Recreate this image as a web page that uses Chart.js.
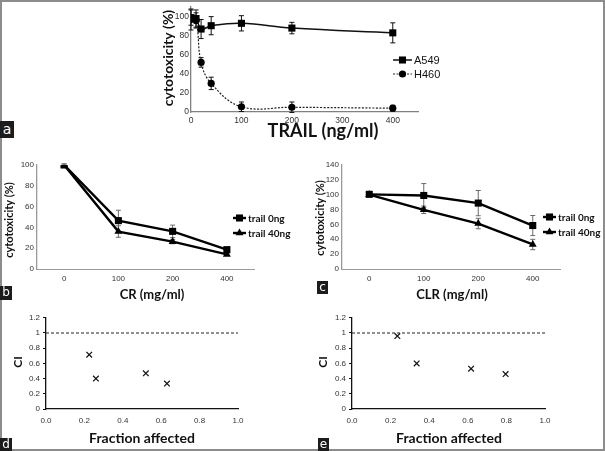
<!DOCTYPE html>
<html>
<head>
<meta charset="utf-8">
<script src="https://cdn.jsdelivr.net/npm/chart.js@4.4.1/dist/chart.umd.min.js"></script>
<style>
  body { margin: 0; background: #fff; }
  canvas { position: absolute; }
  .cornice { position: absolute; left: 0; top: 0; width: 605px; height: 451px; border: 2px solid #8c8c8c; box-sizing: border-box; }
  .lettera { position: absolute; background: #1c1c1c; color: #fff; font: 12px "DejaVu Sans", sans-serif; text-align: center; }
</style>
</head>
<body>
<div class="cornice"></div>
<canvas id="graficoA" width="320" height="141" style="left:140px;top:0px"></canvas>
<canvas id="graficoB" width="300" height="190" style="left:0px;top:120px"></canvas>
<canvas id="graficoC" width="305" height="190" style="left:300px;top:120px"></canvas>
<canvas id="graficoD" width="300" height="141" style="left:0px;top:310px"></canvas>
<canvas id="graficoE" width="305" height="141" style="left:300px;top:310px"></canvas>
<div class="lettera" style="left:0;top:121px;width:14px;height:17px;line-height:16px;font-size:14px">a</div>
<div class="lettera" style="left:0;top:286px;width:12px;height:14px;line-height:13px">b</div>
<div class="lettera" style="left:317px;top:281px;width:11px;height:13px;line-height:12px">c</div>
<div class="lettera" style="left:0;top:438px;width:12px;height:13px;line-height:12px">d</div>
<div class="lettera" style="left:318px;top:438px;width:11px;height:13px;line-height:12px">e</div>
<script>
// pannello a: vitalità in funzione di TRAIL
var trail_dosi = [0, 10, 20, 40, 100, 200, 400];
var a549_valori = [99, 98, 87, 90.5, 93, 88, 83];
var a549_errori = [8, 9, 10, 9.5, 8, 6, 10.5];
var h460_valori = [97, 96, 52, 30, 5.5, 5, 4];
var h460_errori = [11, 8, 5, 6.5, 5, 5.5, 3];
var a_tick_x = [0, 100, 200, 300, 400];
var a_tick_y = [0, 20, 40, 60, 80, 100];

// pannello b: CR
var cr_dosi = ['0', '100', '200', '400'];
var cr_trail0 = [100, 46.5, 36.2, 18.6];
var cr_trail0_err = [1, 10, 6, 2];
var cr_trail40 = [100, 36, 26.3, 14.1];
var cr_trail40_err = [1, 5.5, 2, 1];
var b_tick_y = [0, 20, 40, 60, 80, 100];

// pannello c: CLR
var clr_dosi = ['0', '100', '200', '400'];
var clr_trail0 = [100.5, 99, 88.7, 58.5];
var clr_trail0_err = [2, 16, 17, 13.5];
var clr_trail40 = [100, 79.7, 61.2, 33];
var clr_trail40_err = [1, 5, 7, 7];
var c_tick_y = [0, 20, 40, 60, 80, 100, 120, 140];

// pannelli d ed e: indice di combinazione
var d_fa = [0.225, 0.26, 0.52, 0.63];
var d_ci = [0.715, 0.40, 0.47, 0.335];
var e_fa = [0.235, 0.335, 0.617, 0.796];
var e_ci = [0.96, 0.60, 0.53, 0.46];
var ci_linea_x = [0, 1];
var ci_linea_y = [1, 1];
var ci_tick_x = [0, 0.2, 0.4, 0.6, 0.8, 1.0];
var ci_tick_y = [0, 0.2, 0.4, 0.6, 0.8, 1, 1.2];

var font_tick = 'Liberation Sans';
var font_titoli = 'Lato';

function coppie(xs, ys){
  var out = [];
  for (var i = 0; i < xs.length; i++) {
    out.push({x: xs[i], y: ys[i]});
  }
  return out;
}

function disegna_marker(ctx, stile, x, y, r){
  ctx.fillStyle = '#000';
  ctx.beginPath();
  if (stile === 'rect') {
    var s = r * Math.SQRT1_2;
    ctx.rect(x - s, y - s, 2 * s, 2 * s);
  } else if (stile === 'triangle') {
    ctx.moveTo(x, y - r);
    ctx.lineTo(x + r * 0.866, y + r * 0.5);
    ctx.lineTo(x - r * 0.866, y + r * 0.5);
    ctx.closePath();
  } else {
    ctx.arc(x, y, r, 0, Math.PI * 2);
  }
  ctx.fill();
}

// barre di errore disegnate con la scala y del grafico
var plugin_errori = {
  id: 'barre_errore',
  beforeDatasetsDraw: function(chart){
    var ctx = chart.ctx;
    var sy = chart.scales.y;
    chart.data.datasets.forEach(function(ds, i){
      if (!ds.errori) return;
      var meta = chart.getDatasetMeta(i);
      ctx.save();
      ctx.strokeStyle = ds.coloreErrori;
      ctx.lineWidth = 1;
      meta.data.forEach(function(pt, j){
        var d = ds.data[j];
        var v = (typeof d === 'object') ? d.y : d;
        var alto = sy.getPixelForValue(v + ds.errori[j]);
        var basso = sy.getPixelForValue(v - ds.errori[j]);
        ctx.beginPath();
        ctx.moveTo(pt.x, alto); ctx.lineTo(pt.x, basso);
        ctx.moveTo(pt.x - 2.5, alto); ctx.lineTo(pt.x + 2.5, alto);
        ctx.moveTo(pt.x - 2.5, basso); ctx.lineTo(pt.x + 2.5, basso);
        ctx.stroke();
      });
      ctx.restore();
    });
  }
};

// legenda stile excel: tratto di linea con il marker in mezzo
function legenda(x, lung, ys, font){
  return {
    id: 'legendina',
    afterDraw: function(chart){
      var ctx = chart.ctx;
      ys.forEach(function(y, k){
        var ds = chart.data.datasets[k];
        ctx.save();
        ctx.strokeStyle = ds.borderColor;
        ctx.lineWidth = ds.borderWidth;
        ctx.setLineDash(ds.borderDash || []);
        ctx.beginPath();
        ctx.moveTo(x, y);
        ctx.lineTo(x + lung, y);
        ctx.stroke();
        ctx.setLineDash([]);
        disegna_marker(ctx, ds.pointStyle, x + lung / 2, y, ds.pointRadius);
        ctx.fillStyle = '#111';
        ctx.font = font;
        ctx.textAlign = 'left';
        ctx.textBaseline = 'middle';
        ctx.fillText(ds.label, x + lung + 2, y + 0.5);
        ctx.restore();
      });
    }
  };
}

// titoli degli assi in posizione libera (coordinate della tela)
function titoli(tx, ty){
  return {
    id: 'titoli_assi',
    afterDraw: function(chart){
      var ctx = chart.ctx;
      ctx.save();
      ctx.fillStyle = '#111';
      ctx.textAlign = 'center';
      ctx.textBaseline = 'middle';
      ctx.font = 'bold ' + tx.size + 'px ' + font_titoli;
      ctx.fillText(tx.testo, tx.x, tx.y);
      ctx.translate(ty.x, ty.y);
      ctx.rotate(-Math.PI / 2);
      ctx.font = 'bold ' + ty.size + 'px ' + font_titoli;
      ctx.fillText(ty.testo, 0, 0);
      ctx.restore();
    }
  };
}

function asse_y(min, max, lista, colore, conTacche, fmt){
  return {
    min: min, max: max,
    afterFit: null,
    afterBuildTicks: function(s){ s.ticks = lista.map(function(v){ return {value: v}; }); },
    grid: {display: conTacche, drawOnChartArea: false, drawTicks: conTacche, tickLength: 3, color: colore},
    border: {display: true, color: colore, width: 1.3},
    ticks: {font: {family: font_tick, size: 8}, color: '#333', padding: 3, callback: fmt}
  };
}

function crea_grafico(id, tela, area, config){
  var lw = area.L - tela.l;
  var hx = tela.t + tela.h - area.B;
  config.options.layout = {padding: {left: 0, top: area.T - tela.t, right: tela.l + tela.w - area.R, bottom: 0}};
  config.options.scales.y.afterFit = function(s){ s.width = lw; };
  config.options.scales.x.afterFit = function(s){ s.height = hx; };
  config.options.responsive = false;
  config.options.animation = false;
  config.options.devicePixelRatio = 1;
  config.options.plugins = {legend: {display: false}, tooltip: {enabled: false}};
  var ctx = document.getElementById(id).getContext('2d');
  return new Chart(ctx, config);
}

function locale(tela, px, py){
  return {x: px - tela.l, y: py - tela.t};
}

// ---------- pannello a ----------
var telaA = {l: 140, t: 0, w: 320, h: 141};
var pA1 = locale(telaA, 323, 131), pA2 = locale(telaA, 168, 58);
var yA = asse_y(0, 110, a_tick_y, '#808080', false);
yA.ticks.font.size = 8.5;
yA.ticks.padding = 2;
crea_grafico('graficoA', telaA, {L: 191, T: 6, R: 418, B: 112}, {
  type: 'scatter',
  data: {
    datasets: [{
      label: 'A549',
      data: coppie(trail_dosi, a549_valori),
      errori: a549_errori, coloreErrori: '#111',
      showLine: true, tension: 0.4,
      borderColor: '#111', borderWidth: 1.5,
      pointStyle: 'rect', pointRadius: 5, pointBackgroundColor: '#000', pointBorderWidth: 0
    }, {
      label: 'H460',
      data: coppie(trail_dosi, h460_valori),
      errori: h460_errori, coloreErrori: '#111',
      showLine: true, tension: 0.4,
      borderColor: '#222', borderWidth: 1.2, borderDash: [2, 1.5],
      pointStyle: 'circle', pointRadius: 3.6, pointBackgroundColor: '#000', pointBorderWidth: 0
    }]
  },
  options: {
    scales: {
      x: {
        type: 'linear', min: 0, max: 450,
        afterBuildTicks: function(s){ s.ticks = a_tick_x.map(function(v){ return {value: v}; }); },
        grid: {display: false, drawTicks: false},
        border: {display: true, color: '#808080', width: 1.3},
        ticks: {font: {family: font_tick, size: 8.5}, color: '#333', padding: 4, maxRotation: 0, autoSkip: false}
      },
      y: yA
    }
  },
  plugins: [plugin_errori, legenda(393 - 140, 19, [60, 74], '11px ' + font_tick),
    titoli({testo: 'TRAIL (ng/ml)', size: 18, x: pA1.x, y: pA1.y}, {testo: 'cytotoxicity (%)', size: 14, x: pA2.x, y: pA2.y})]
});

// ---------- pannelli b e c ----------
function grafico_linee(id, tela, area, etichette, s0, e0, s40, e40, maxY, tickY, titoloX, posX, posY, legX, legY){
  var p1 = locale(tela, posX[0], posX[1]);
  var p2 = locale(tela, posY[0], posY[1]);
  return crea_grafico(id, tela, area, {
    type: 'line',
    data: {
      labels: etichette,
      datasets: [{
        label: 'trail 0ng', data: s0, errori: e0, coloreErrori: '#6a6a6a',
        borderColor: '#000', borderWidth: 2.4, tension: 0,
        pointStyle: 'rect', pointRadius: 5, pointBackgroundColor: '#000', pointBorderWidth: 0
      }, {
        label: 'trail 40ng', data: s40, errori: e40, coloreErrori: '#6a6a6a',
        borderColor: '#000', borderWidth: 2.4, tension: 0,
        pointStyle: 'triangle', pointRadius: 4.6, pointBackgroundColor: '#000', pointBorderWidth: 0
      }]
    },
    options: {
      scales: {
        x: {
          type: 'category', offset: true,
          grid: {display: false, drawTicks: false},
          border: {display: true, color: '#9a9a9a', width: 1},
          ticks: {font: {family: font_tick, size: 8}, color: '#333', padding: 5, maxRotation: 0, autoSkip: false}
        },
        y: asse_y(0, maxY, tickY, '#9a9a9a', false)
      }
    },
    plugins: [plugin_errori, legenda(legX - tela.l, 13, [legY[0] - tela.t, legY[1] - tela.t], 'bold 10px ' + font_titoli),
      titoli({testo: titoloX, size: 13, x: p1.x, y: p1.y}, {testo: 'cytotoxicity (%)', size: 11, x: p2.x, y: p2.y})]
  });
}

grafico_linee('graficoB', {l: 0, t: 120, w: 300, h: 190}, {L: 37, T: 165, R: 254, B: 269},
  cr_dosi, cr_trail0, cr_trail0_err, cr_trail40, cr_trail40_err, 100, b_tick_y,
  'CR (mg/ml)', [152, 295], [9, 220], 233, [218, 233]);

grafico_linee('graficoC', {l: 300, t: 120, w: 305, h: 190}, {L: 342, T: 165, R: 560, B: 269},
  clr_dosi, clr_trail0, clr_trail0_err, clr_trail40, clr_trail40_err, 140, c_tick_y,
  'CLR (mg/ml)', [452, 295], [320, 218], 543, [217, 232]);

// ---------- pannelli d ed e ----------
function grafico_ci(id, tela, area, fa, ci, posX, posY){
  var p1 = locale(tela, posX[0], posX[1]);
  var p2 = locale(tela, posY[0], posY[1]);
  return crea_grafico(id, tela, area, {
    type: 'scatter',
    data: {
      datasets: [{
        data: coppie(fa, ci),
        pointStyle: 'crossRot', pointRadius: 4, borderColor: '#111', borderWidth: 1.2
      }, {
        data: coppie(ci_linea_x, ci_linea_y),
        showLine: true, pointRadius: 0, borderColor: '#222', borderWidth: 1.2, borderDash: [3, 2]
      }]
    },
    options: {
      scales: {
        x: {
          type: 'linear', min: 0, max: 1,
          afterBuildTicks: function(s){ s.ticks = ci_tick_x.map(function(v){ return {value: v}; }); },
          grid: {display: false, drawTicks: false},
          border: {display: true, color: '#111', width: 1.3},
          ticks: {font: {family: font_tick, size: 8}, color: '#333', padding: 7, maxRotation: 0, autoSkip: false,
            callback: function(v){ return Number(v).toFixed(1); }}
        },
        y: asse_y(0, 1.2, ci_tick_y, '#111', true, function(v){ return String(Math.round(v * 10) / 10); })
      }
    },
    plugins: [titoli({testo: 'Fraction affected', size: 14, x: p1.x, y: p1.y}, {testo: 'CI', size: 12, x: p2.x, y: p2.y})]
  });
}

grafico_ci('graficoD', {l: 0, t: 310, w: 300, h: 141}, {L: 46, T: 315, R: 238, B: 409}, d_fa, d_ci, [142, 438], [18, 362]);
grafico_ci('graficoE', {l: 300, t: 310, w: 305, h: 141}, {L: 352, T: 315, R: 545, B: 409}, e_fa, e_ci, [449, 438], [323, 362]);
</script>
</body>
</html>
